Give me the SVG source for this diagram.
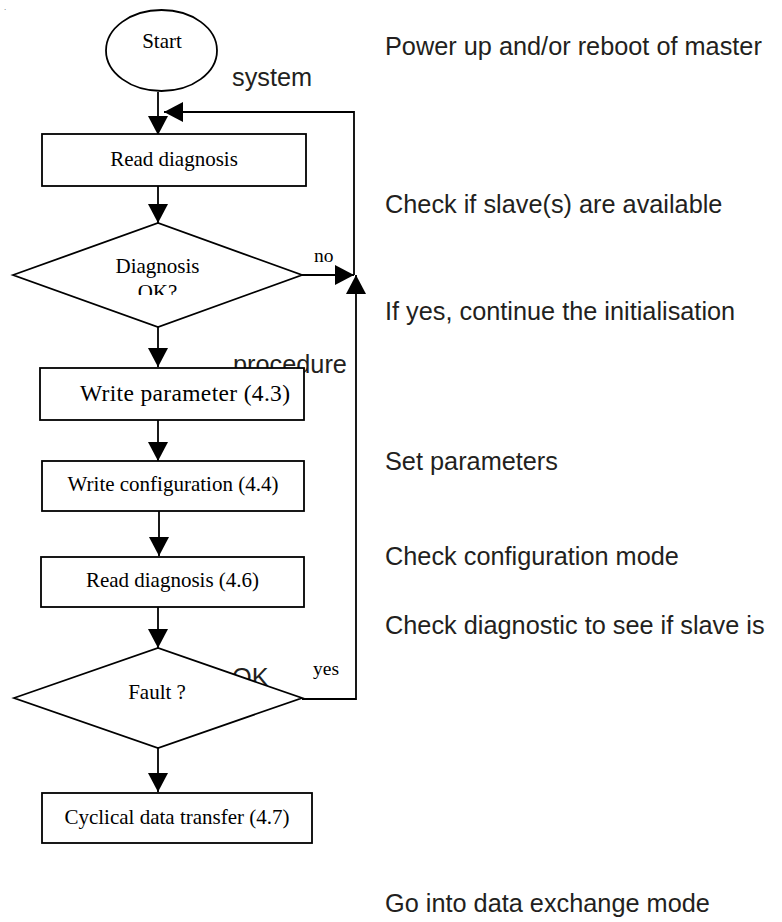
<svg xmlns="http://www.w3.org/2000/svg" width="782" height="922" viewBox="0 0 782 922">
  <style>
    .shape { fill: #ffffff; stroke: #000000; stroke-width: 1.8; }
    .conn { fill: none; stroke: #000000; stroke-width: 1.8; }
    .lbl { font-family: "Liberation Serif", "Times New Roman", serif; font-size: 21px; fill: #000000; }
    .lbl.big { font-size: 23.5px; }
    .edge { font-family: "Liberation Serif", "Times New Roman", serif; font-size: 19.5px; fill: #000000; }
    .note { font-family: "Liberation Sans", Arial, sans-serif; font-size: 25.3px; fill: #231f20; }
  </style>
  <defs>
    <marker id="arr" viewBox="0 0 19 20" refX="19" refY="10" markerWidth="19" markerHeight="20" markerUnits="userSpaceOnUse" orient="auto">
      <path d="M0,0 L19,10 L0,20 Z" fill="#000000"/>
    </marker>
    <clipPath id="clipDiag">
      <rect x="0" y="240" width="320" height="55"/>
    </clipPath>
  </defs>

  <rect width="782" height="922" fill="#ffffff"/>
  <text x="4" y="10" font-family="Liberation Sans, sans-serif" font-size="8" fill="#555555">.</text>

  <!-- annotation texts (drawn beneath the nodes) -->
  <g id="notes">
    <text class="note" x="385" y="55">Power up and/or reboot of master</text>
    <text class="note" x="232" y="86">system</text>
    <text class="note" x="385" y="213">Check if slave(s) are available</text>
    <text class="note" x="385" y="320">If yes, continue the initialisation</text>
    <text class="note" x="233" y="373">procedure</text>
    <text class="note" x="385" y="470">Set parameters</text>
    <text class="note" x="385" y="565">Check configuration mode</text>
    <text class="note" x="385" y="634">Check diagnostic to see if slave is</text>
    <text class="note" x="232" y="686">OK</text>
    <text class="note" x="385" y="912">Go into data exchange mode</text>
  </g>

  <g id="connectors">
    <path class="conn" d="M158,92 V135" marker-end="url(#arr)"/>
    <path class="conn" d="M158,186 V223" marker-end="url(#arr)"/>
    <path class="conn" d="M158,327 V367" marker-end="url(#arr)"/>
    <path class="conn" d="M158,420 V461" marker-end="url(#arr)"/>
    <path class="conn" d="M159,511 V556" marker-end="url(#arr)"/>
    <path class="conn" d="M158,607 V648" marker-end="url(#arr)"/>
    <path class="conn" d="M158,748 V792" marker-end="url(#arr)"/>
    <path class="conn" d="M302,275 H354" marker-end="url(#arr)"/>
    <path class="conn" d="M354,275 V112 H164" marker-end="url(#arr)"/>
    <path class="conn" d="M302,699 H356 V275" marker-end="url(#arr)"/>
    <text class="edge" x="314" y="262">no</text>
    <text class="edge" x="313" y="675">yes</text>
  </g>

  <g id="start">
    <ellipse class="shape" cx="161.5" cy="50.5" rx="55.5" ry="40.5"/>
    <text class="lbl" x="162" y="48" text-anchor="middle">Start</text>
  </g>

  <g id="read-diagnosis">
    <rect class="shape" x="42" y="134" width="264" height="52"/>
    <text class="lbl" x="174" y="166" text-anchor="middle">Read diagnosis</text>
  </g>

  <g id="diagnosis-ok">
    <polygon class="shape" points="13,275 158,223 302,275 158,327"/>
    <g clip-path="url(#clipDiag)">
      <text class="lbl" x="157.5" y="273" text-anchor="middle">Diagnosis</text>
      <text class="lbl" x="157.5" y="299" text-anchor="middle">OK?</text>
    </g>
  </g>

  <g id="write-parameter">
    <rect class="shape" x="40" y="368" width="264" height="52"/>
    <text class="lbl big" x="80" y="401" textLength="210" lengthAdjust="spacing">Write parameter (4.3)</text>
  </g>

  <g id="write-configuration">
    <rect class="shape" x="42" y="461" width="262" height="50"/>
    <text class="lbl" x="173" y="491" text-anchor="middle">Write configuration (4.4)</text>
  </g>

  <g id="read-diagnosis-46">
    <rect class="shape" x="41" y="557" width="263" height="50"/>
    <text class="lbl" x="172.5" y="587" text-anchor="middle">Read diagnosis (4.6)</text>
  </g>

  <g id="fault">
    <polygon class="shape" points="14,698 158,648 302,698 158,748"/>
    <text class="lbl" x="157" y="699" text-anchor="middle">Fault ?</text>
  </g>

  <g id="cyclical-transfer">
    <rect class="shape" x="42" y="793" width="270" height="50"/>
    <text class="lbl" x="177" y="824" text-anchor="middle">Cyclical data transfer (4.7)</text>
  </g>
</svg>
